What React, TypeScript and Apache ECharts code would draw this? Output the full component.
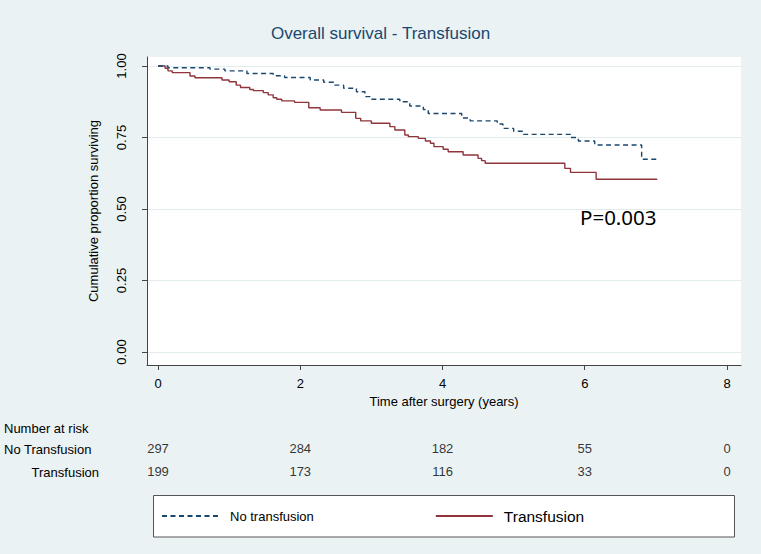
import React, { useEffect, useRef } from "react";
import * as echarts from "echarts";

// ---- data ----
const chartTitle = "Overall survival - Transfusion";
const xTickValues = [0, 2, 4, 6, 8];
const yTickValues = [0, 0.25, 0.5, 0.75, 1];

// Kaplan-Meier steps: [time (years), survival from that time on]
const noTransfusionKM: [number, number][] = [
  [0, 1.0], [0.14, 0.994], [0.73, 0.989], [0.94, 0.983], [1.25, 0.974],
  [1.62, 0.966], [1.78, 0.96], [2.14, 0.951], [2.33, 0.943], [2.47, 0.933],
  [2.61, 0.922], [2.79, 0.91], [2.91, 0.893], [2.98, 0.884], [3.4, 0.875],
  [3.54, 0.86], [3.73, 0.848], [3.8, 0.834], [4.27, 0.818], [4.39, 0.808],
  [4.77, 0.797], [4.85, 0.782], [5.0, 0.772], [5.14, 0.761], [5.8, 0.75],
  [5.91, 0.738], [6.14, 0.724], [6.8, 0.674], [7.04, 0.674],
];
const transfusionKM: [number, number][] = [
  [0, 1.0], [0.1, 0.992], [0.14, 0.983], [0.2, 0.977], [0.45, 0.965],
  [0.52, 0.959], [0.9, 0.951], [1.0, 0.945], [1.1, 0.933], [1.16, 0.925],
  [1.29, 0.918], [1.34, 0.914], [1.48, 0.907], [1.55, 0.899], [1.62, 0.889],
  [1.67, 0.884], [1.74, 0.878], [1.92, 0.873], [2.12, 0.854], [2.28, 0.846],
  [2.58, 0.838], [2.78, 0.817], [2.85, 0.808], [3.0, 0.8], [3.26, 0.788],
  [3.33, 0.776], [3.47, 0.759], [3.52, 0.753], [3.66, 0.747], [3.76, 0.738],
  [3.83, 0.73], [3.88, 0.718], [4.01, 0.709], [4.08, 0.7], [4.29, 0.689],
  [4.5, 0.677], [4.55, 0.669], [4.6, 0.66], [5.72, 0.642], [5.8, 0.628],
  [6.16, 0.604], [7.02, 0.604],
];

const riskTimes = [0, 2, 4, 6, 8];
const riskNoTransfusion = [297, 284, 182, 55, 0];
const riskTransfusion = [199, 173, 116, 33, 0];
const riskRows = ["No Transfusion", "Transfusion"];
const riskHeader = "Number at risk";
const seriesNames = ["No transfusion", "Transfusion"];
const pValueText = "P=0.003";

const FONT = '"Liberation Sans", Arial, sans-serif';

export default function App() {
  const ref = useRef<HTMLDivElement>(null);

  useEffect(() => {
    if (!ref.current) return;
    const chart = echarts.init(ref.current, null, { renderer: "svg" });

    const option: any = {
      animation: false,
      backgroundColor: "#eaf2f3",
      textStyle: { fontFamily: FONT },
      title: {
        text: chartTitle,
        left: "center",
        top: 20,
        textStyle: { color: "#1a476f", fontSize: 17, fontWeight: "normal", fontFamily: FONT },
      },
      grid: [
        { left: 147, top: 57, width: 594, height: 308, show: true, backgroundColor: "#ffffff", borderWidth: 0 },
        { left: 147, top: 437, width: 594, height: 46 },
      ],
      xAxis: [
        {
          type: "value",
          gridIndex: 0,
          min: -0.1547,
          max: 8.197,
          name: "Time after surgery (years)",
          nameLocation: "middle",
          nameGap: 29,
          nameTextStyle: { color: "#000", fontSize: 13, fontFamily: FONT },
          axisLine: { show: true, onZero: false, lineStyle: { color: "#444", width: 1 } },
          axisTick: { show: true, customValues: xTickValues, length: 5, lineStyle: { color: "#444" } },
          axisLabel: { customValues: xTickValues, color: "#000", fontSize: 13, margin: 12, fontFamily: FONT },
          splitLine: { show: false },
        },
        { type: "value", gridIndex: 1, min: -0.1547, max: 8.197, show: false },
      ],
      yAxis: [
        {
          type: "value",
          gridIndex: 0,
          min: -0.0455,
          max: 1.0315,
          name: "Cumulative proportion surviving",
          nameLocation: "middle",
          nameGap: 47,
          nameRotate: 90,
          nameTextStyle: { color: "#000", fontSize: 13, fontFamily: FONT },
          axisLine: { show: true, onZero: false, lineStyle: { color: "#444", width: 1 } },
          axisTick: { show: true, customValues: yTickValues, length: 5, lineStyle: { color: "#444" } },
          axisLabel: {
            customValues: yTickValues,
            rotate: 90,
            margin: 19,
            color: "#000",
            fontSize: 13,
            fontFamily: FONT,
            formatter: (v: number) => v.toFixed(2),
          },
          splitLine: { show: true, lineStyle: { color: "#e2ecee", width: 1 } },
        },
        { type: "category", gridIndex: 1, data: riskRows, inverse: true, show: false },
      ],
      legend: {
        left: 161,
        top: 508,
        padding: 0,
        itemWidth: 57,
        itemHeight: 14,
        itemGap: 121,
        selectedMode: false,
        itemStyle: { color: "rgba(0,0,0,0)", borderColor: "rgba(0,0,0,0)", borderWidth: 0 },
        data: [
          { name: seriesNames[0], textStyle: { fontSize: 13 } },
          { name: seriesNames[1], textStyle: { fontSize: 15.5 } },
        ],
        textStyle: { color: "#000", fontFamily: FONT, padding: [0, 0, 0, 6] },
      },
      series: [
        {
          name: seriesNames[0],
          type: "line",
          xAxisIndex: 0,
          yAxisIndex: 0,
          step: "end",
          symbol: "none",
          data: noTransfusionKM,
          itemStyle: { color: "#1a476f" },
          lineStyle: { color: "#1a476f", width: 1.4, type: [5, 3.5] },
          z: 3,
        },
        {
          name: seriesNames[1],
          type: "line",
          xAxisIndex: 0,
          yAxisIndex: 0,
          step: "end",
          symbol: "none",
          data: transfusionKM,
          itemStyle: { color: "#90353b" },
          lineStyle: { color: "#90353b", width: 1.4 },
          z: 2,
        },
        {
          type: "scatter",
          xAxisIndex: 1,
          yAxisIndex: 1,
          silent: true,
          symbolSize: 1,
          itemStyle: { color: "rgba(0,0,0,0)" },
          data: riskTimes.map((t, i) => [t, 0, riskNoTransfusion[i]]),
          label: {
            show: true,
            position: "inside",
            color: "#000",
            fontSize: 13,
            fontFamily: FONT,
            formatter: (p: any) => String(p.value[2]),
          },
        },
        {
          type: "scatter",
          xAxisIndex: 1,
          yAxisIndex: 1,
          silent: true,
          symbolSize: 1,
          itemStyle: { color: "rgba(0,0,0,0)" },
          data: riskTimes.map((t, i) => [t, 1, riskTransfusion[i]]),
          label: {
            show: true,
            position: "inside",
            color: "#000",
            fontSize: 13,
            fontFamily: FONT,
            formatter: (p: any) => String(p.value[2]),
          },
        },
      ],
      graphic: [
        {
          type: "rect",
          z: 0,
          shape: { x: 153.5, y: 495.5, width: 581, height: 41.5 },
          style: { fill: "#ffffff", stroke: "#555", lineWidth: 1 },
        },
        {
          type: "text",
          x: 4,
          y: 428,
          style: { text: riskHeader, fill: "#000", fontSize: 13, fontFamily: FONT, verticalAlign: "middle" },
        },
        {
          type: "text",
          x: 4,
          y: 449,
          style: { text: riskRows[0], fill: "#000", fontSize: 13, fontFamily: FONT, verticalAlign: "middle" },
        },
        {
          type: "text",
          x: 99,
          y: 472,
          style: { text: riskRows[1], fill: "#000", fontSize: 13, fontFamily: FONT, align: "right", verticalAlign: "middle" },
        },
        {
          type: "text",
          x: 580,
          y: 217,
          z: 10,
          style: { text: pValueText, fill: "#000", fontSize: 20.5, fontFamily: '"Noto Sans", sans-serif', verticalAlign: "middle" },
        },
      ],
    };

    chart.setOption(option);
    return () => chart.dispose();
  }, []);

  return (
    <div
      ref={ref}
      style={{ position: "absolute", left: 0, top: 0, width: 761, height: 554 }}
    />
  );
}
